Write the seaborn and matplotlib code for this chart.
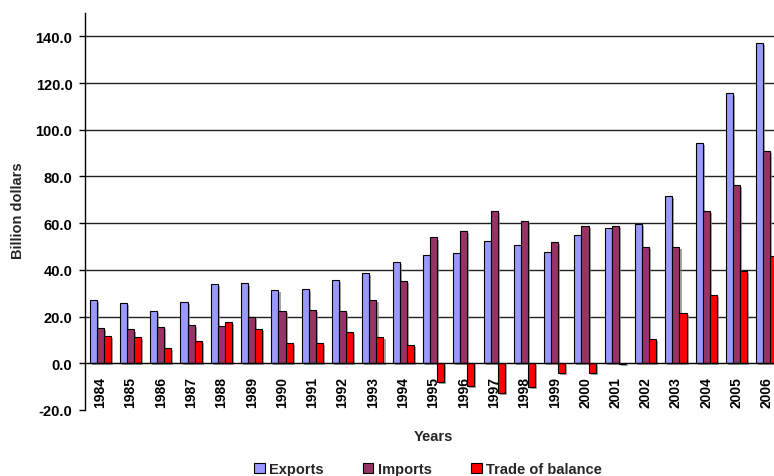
import matplotlib
matplotlib.use("Agg")
import matplotlib.pyplot as plt
import matplotlib.patheffects as pe
from matplotlib.patches import Patch
import numpy as np
import pandas as pd
import seaborn as sns

years = ["1984", "1985", "1986", "1987", "1988", "1989", "1990", "1991", "1992",
         "1993", "1994", "1995", "1996", "1997", "1998", "1999", "2000", "2001",
         "2002", "2003", "2004", "2005", "2006"]
exports = [27.0, 25.7, 22.6, 26.2, 33.8, 34.2, 31.3, 31.8, 35.8, 38.6, 43.3, 46.2,
           47.1, 52.2, 50.6, 47.5, 55.1, 57.8, 59.8, 71.5, 94.4, 115.7, 137.2]
imports = [15.2, 14.5, 15.7, 16.4, 16.0, 19.7, 22.6, 23.0, 22.6, 27.3, 35.3, 53.9,
           56.6, 65.1, 60.8, 51.8, 58.9, 58.7, 49.9, 49.9, 65.1, 76.3, 91.1]
balance = [11.6, 11.3, 6.7, 9.6, 17.6, 14.6, 8.7, 8.7, 13.6, 11.3, 8.0, -7.9,
           -9.6, -12.7, -10.2, -4.2, -4.2, -0.4, 10.4, 21.6, 29.3, 39.4, 45.8]
series = ["Exports", "Imports", "Trade of balance"]
colors = ["#9999FF", "#993366", "#FF0000"]
yticks = [-20, 0, 20, 40, 60, 80, 100, 120, 140]

df = pd.DataFrame({
    "Year": years * 3,
    "Value": exports + imports + balance,
    "Series": [series[0]] * len(years) + [series[1]] * len(years) + [series[2]] * len(years),
})

sns.set_theme(style="white")
plt.rcParams["font.family"] = ["Liberation Sans", "DejaVu Sans"]
plt.rcParams["font.weight"] = "bold"

fig = plt.figure(figsize=(7.74, 4.77), dpi=100)
ax = fig.add_axes([85 / 774, 1 - 411 / 477, (782 - 85) / 774, (411 - 14) / 477])

sns.barplot(data=df, x="Year", y="Value", hue="Series", order=years,
            hue_order=series, palette=colors, width=0.7, saturation=1,
            edgecolor="black", linewidth=0.8, legend=False, ax=ax, zorder=3)

for bar in ax.patches:
    bar.set_path_effects([pe.SimplePatchShadow(offset=(1.5, -1.5),
                                               shadow_rgbFace="#808080", alpha=0.7),
                          pe.Normal()])

ax.set_ylim(-20, 150)
ax.set_xlim(-0.5, len(years) - 0.5)
ax.set_yticks(yticks)
ax.set_yticklabels([f"{v:.1f}" for v in yticks], fontsize=10.5, fontweight="bold")

# horizontal gridlines above zero
for v in yticks:
    if v > 0:
        ax.axhline(v, color="#222222", lw=1.0, zorder=1)

ax.spines["top"].set_visible(False)
ax.spines["right"].set_visible(False)
ax.spines["bottom"].set_position(("data", 0))
ax.spines["bottom"].set_color("black")
ax.spines["bottom"].set_linewidth(1.0)
ax.spines["bottom"].set_zorder(4)
ax.spines["left"].set_color("black")
ax.spines["left"].set_linewidth(1.0)

ax.set_xticks(range(len(years)))
ax.set_xticklabels(years, rotation=90, fontsize=10, fontweight="bold")
ax.set_xticks(np.arange(-0.5, len(years), 1.0), minor=True)
ax.tick_params(axis="x", which="major", length=0, pad=9, colors="black")
ax.tick_params(axis="x", which="minor", length=4, width=1, direction="out", color="black")
ax.tick_params(axis="y", which="major", length=4, width=1, direction="out", pad=5,
               left=True, colors="black")
ax.set_xlabel("")
ax.set_ylabel("")

fig.text(18 / 774, 1 - 211 / 477, "Billion dollars", rotation=90, ha="center",
         va="center", fontsize=10.5, fontweight="bold")
fig.text(433 / 774, 1 - 437 / 477, "Years", ha="center", va="center",
         fontsize=10.5, fontweight="bold")

handles = [Patch(facecolor=c, edgecolor="black", linewidth=0.8) for c in colors]
fig.legend(handles, series, loc="center", bbox_to_anchor=(428 / 774, 1 - 470 / 477),
           ncol=3, frameon=False, fontsize=10.5, handlelength=0.72, handleheight=0.72,
           handletextpad=0.3, columnspacing=2.7, borderaxespad=0, borderpad=0,
           prop={"weight": "bold", "size": 10.5})

fig.savefig("out.png", dpi=100)
